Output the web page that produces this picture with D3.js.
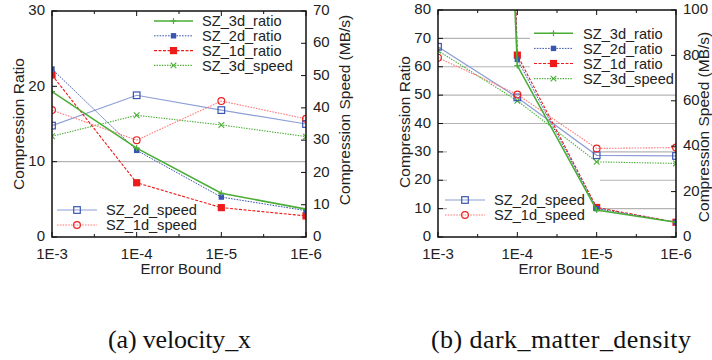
<!DOCTYPE html>
<html>
<head>
<meta charset="utf-8">
<script src="https://cdn.jsdelivr.net/npm/d3@7"></script>
<style>
  html, body { margin: 0; padding: 0; background: #fff; }
  svg { display: block; }
  text { font-family: "Liberation Sans", Arial, sans-serif; fill: #222; }
  .caption { font-family: "Liberation Serif", "Times New Roman", serif; fill: #111; }
</style>
</head>
<body>
<svg id="chart" width="712" height="360"></svg>
<script>
// Error bounds on the x axis (shared by both panels)
const errorBounds = ["1E-3", "1E-4", "1E-5", "1E-6"];

// (a) velocity_x : compression ratio (left axis) and speed in MB/s (right axis)
const velRatio3d = [19.3, 11.8, 5.8, 3.7];
const velRatio2d = [22.3, 11.5, 5.3, 3.5];
const velRatio1d = [21.5, 7.2, 3.9, 2.8];
const velSpeed3d = [31.2, 37.7, 34.7, 31.1];
const velSpeed2d = [34.5, 43.9, 39.3, 35.0];
const velSpeed1d = [39.3, 30.0, 42.1, 36.6];

// (b) dark_matter_density
const dmdRatio3d = [725, 60.4, 9.5, 5.2];
const dmdRatio2d = [890, 62.6, 10.0, 5.2];
const dmdRatio1d = [1000, 64.1, 10.4, 5.2];
const dmdSpeed3d = [82.1, 60.0, 33.1, 32.4];
const dmdSpeed2d = [83.8, 61.5, 36.0, 35.7];
const dmdSpeed1d = [79.0, 62.8, 39.0, 39.4];

// Axis tick values
const velRatioTicks = [0, 10, 20, 30];
const velSpeedTicks = [0, 10, 20, 30, 40, 50, 60, 70];
const dmdRatioTicks = [0, 10, 20, 30, 40, 50, 60, 70, 80];
const dmdSpeedTicks = [0, 20, 40, 60, 80, 100];

const captions = ["(a) velocity_x", "(b) dark_matter_density"];

// Line / marker style for every series
const styles = {
  SZ_3d_ratio: { color: "#4aae35", width: 1.6, dash: null,      marker: "plus" },
  SZ_2d_ratio: { color: "#3a55b0", width: 1.0, dash: "1.6,1.2", marker: "fsquareSmall" },
  SZ_1d_ratio: { color: "#ee1b1b", width: 1.1, dash: "3,1.5",   marker: "fsquare" },
  SZ_3d_speed: { color: "#4aae35", width: 1.1, dash: "1.4,1.2", marker: "cross" },
  SZ_2d_speed: { color: "#8d9fd6", width: 1.2, dash: null,      marker: "osquare", mcolor: "#3a55b0" },
  SZ_1d_speed: { color: "#ff7a7a", width: 1.1, dash: "1.6,1.2", marker: "ocircle", mcolor: "#ee2222" }
};

const svg = d3.select("#chart");

function drawMarker(g, kind, x, y, st) {
  const c = st.mcolor || st.color;
  if (kind === "plus") {
    g.append("path").attr("d", `M${x-3},${y}H${x+3}M${x},${y-3}V${y+3}`)
      .attr("stroke", c).attr("stroke-width", 1.2).attr("fill", "none");
  } else if (kind === "cross") {
    g.append("path").attr("d", `M${x-2.8},${y-2.8}L${x+2.8},${y+2.8}M${x-2.8},${y+2.8}L${x+2.8},${y-2.8}`)
      .attr("stroke", c).attr("stroke-width", 1.1).attr("fill", "none");
  } else if (kind === "fsquareSmall") {
    g.append("rect").attr("x", x-2.7).attr("y", y-2.7).attr("width", 5.4).attr("height", 5.4).attr("fill", c);
  } else if (kind === "fsquare") {
    g.append("rect").attr("x", x-3.6).attr("y", y-3.6).attr("width", 7.2).attr("height", 7.2).attr("fill", c);
  } else if (kind === "osquare") {
    g.append("rect").attr("x", x-3.3).attr("y", y-3.3).attr("width", 6.6).attr("height", 6.6)
      .attr("fill", "none").attr("stroke", c).attr("stroke-width", 1.2);
  } else if (kind === "ocircle") {
    g.append("circle").attr("cx", x).attr("cy", y).attr("r", 3.4)
      .attr("fill", "none").attr("stroke", c).attr("stroke-width", 1.2);
  }
}

function drawPanel(p, idx) {
  const g = svg.append("g");
  const x = d3.scalePoint().domain(errorBounds).range([p.left, p.right]);
  const y = d3.scaleLinear().domain([0, p.yMax]).range([p.bottom, p.top]);
  const y2 = d3.scaleLinear().domain([0, p.y2Max]).range([p.bottom, p.top]);

  // horizontal grid
  g.append("g").selectAll("line").data(p.grid).join("line")
    .attr("x1", p.left).attr("x2", p.right)
    .attr("y1", d => y(d)).attr("y2", d => y(d))
    .attr("stroke", "#b4b4b4").attr("stroke-width", 1.2);

  // opaque key areas over the grid
  p.keyBoxes.forEach(b => {
    g.append("rect").attr("x", b[0]).attr("y", b[1]).attr("width", b[2] - b[0]).attr("height", b[3] - b[1])
      .attr("fill", "#fff");
  });

  // clip region for data
  const clipId = "clip" + idx;
  svg.append("clipPath").attr("id", clipId).append("rect")
    .attr("x", p.left).attr("y", p.top).attr("width", p.right - p.left).attr("height", p.bottom - p.top);

  const data = g.append("g").attr("clip-path", `url(#${clipId})`);
  p.series.forEach(s => {
    const st = styles[s.name];
    const sc = s.axis === "y2" ? y2 : y;
    const line = d3.line().x((d, i) => x(errorBounds[i])).y(d => sc(d));
    data.append("path").attr("d", line(s.values))
      .attr("fill", "none").attr("stroke", st.color).attr("stroke-width", st.width)
      .attr("stroke-dasharray", st.dash);
    s.values.forEach((v, i) => drawMarker(data, st.marker, x(errorBounds[i]), sc(v), st));
  });

  // frame
  g.append("rect").attr("x", p.left).attr("y", p.top)
    .attr("width", p.right - p.left).attr("height", p.bottom - p.top)
    .attr("fill", "none").attr("stroke", "#111").attr("stroke-width", 1.5);

  // ticks: left (y), right (y2), bottom + top (x with minor midpoints)
  const tk = g.append("g").attr("stroke", "#111").attr("stroke-width", 1);
  p.yTicks.forEach(t => tk.append("line").attr("x1", p.left).attr("x2", p.left + 5).attr("y1", y(t)).attr("y2", y(t)));
  p.y2Ticks.forEach(t => tk.append("line").attr("x1", p.right).attr("x2", p.right - 5).attr("y1", y2(t)).attr("y2", y2(t)));
  errorBounds.forEach((e, i) => {
    const xv = x(e);
    tk.append("line").attr("x1", xv).attr("x2", xv).attr("y1", p.bottom).attr("y2", p.bottom - 5);
    tk.append("line").attr("x1", xv).attr("x2", xv).attr("y1", p.top).attr("y2", p.top + 5);
    if (i < errorBounds.length - 1) {
      const xm = (xv + x(errorBounds[i + 1])) / 2;
      tk.append("line").attr("x1", xm).attr("x2", xm).attr("y1", p.bottom).attr("y2", p.bottom - 3);
      tk.append("line").attr("x1", xm).attr("x2", xm).attr("y1", p.top).attr("y2", p.top + 3);
    }
  });

  // tick labels
  const fs = "15px";
  g.append("g").selectAll("text").data(p.yTicks).join("text")
    .attr("x", p.left - 7).attr("y", d => y(d)).attr("dy", "0.28em")
    .attr("text-anchor", "end").style("font-size", fs).text(d => d);
  g.append("g").selectAll("text").data(p.y2Ticks).join("text")
    .attr("x", p.right + 7).attr("y", d => y2(d)).attr("dy", "0.28em")
    .attr("text-anchor", "start").style("font-size", fs).text(d => d);
  g.append("g").selectAll("text").data(errorBounds).join("text")
    .attr("x", d => x(d)).attr("y", p.bottom + 22)
    .attr("text-anchor", "middle").style("font-size", fs).text(d => d);

  // axis titles
  g.append("text").attr("x", (p.left + p.right) / 2 + 2).attr("y", p.bottom + 37)
    .attr("text-anchor", "middle").style("font-size", fs).text("Error Bound");
  g.append("text").attr("transform", `translate(${p.yTitleX},${p.yTitleY}) rotate(-90)`)
    .attr("text-anchor", "middle").style("font-size", "15.5px").text("Compression Ratio");
  g.append("text").attr("transform", `translate(${p.y2TitleX},${p.y2TitleY}) rotate(-90)`)
    .attr("text-anchor", "middle").style("font-size", "15.5px").text("Compression Speed (MB/s)");

  // keys
  p.keys.forEach(k => {
    k.names.forEach((n, i) => {
      const st = styles[n];
      const ry = k.y0 + i * k.dy;
      g.append("line").attr("x1", k.x0).attr("x2", k.x1).attr("y1", ry).attr("y2", ry)
        .attr("stroke", st.color).attr("stroke-width", st.width).attr("stroke-dasharray", st.dash);
      drawMarker(g, st.marker, (k.x0 + k.x1) / 2, ry, st);
      g.append("text").attr("x", k.tx).attr("y", ry).attr("dy", "0.36em")
        .style("font-size", "14.6px").text(n);
    });
  });

  // caption
  svg.append("text").attr("class", "caption").attr("x", p.capX).attr("y", 348)
    .style("font-size", "26px").attr("textLength", p.capW).attr("lengthAdjust", "spacing")
    .text(captions[idx]);
}

const topKeyNames = ["SZ_3d_ratio", "SZ_2d_ratio", "SZ_1d_ratio", "SZ_3d_speed"];
const bottomKeyNames = ["SZ_2d_speed", "SZ_1d_speed"];

const panels = [
  {
    left: 52, right: 306, top: 11, bottom: 237,
    yMax: 30, y2Max: 70, yTicks: velRatioTicks, y2Ticks: velSpeedTicks, grid: [10],
    keyBoxes: [],
    series: [
      { name: "SZ_3d_speed", axis: "y2", values: velSpeed3d },
      { name: "SZ_2d_speed", axis: "y2", values: velSpeed2d },
      { name: "SZ_1d_speed", axis: "y2", values: velSpeed1d },
      { name: "SZ_1d_ratio", axis: "y", values: velRatio1d },
      { name: "SZ_2d_ratio", axis: "y", values: velRatio2d },
      { name: "SZ_3d_ratio", axis: "y", values: velRatio3d }
    ],
    keys: [
      { names: topKeyNames, x0: 154, x1: 193, tx: 202, y0: 21, dy: 14.8 },
      { names: bottomKeyNames, x0: 57, x1: 97, tx: 106, y0: 210, dy: 15 }
    ],
    yTitleX: 24, yTitleY: 124, y2TitleX: 350, y2TitleY: 110,
    capX: 108, capW: 143
  },
  {
    left: 438, right: 676, top: 10, bottom: 237,
    yMax: 80, y2Max: 100, yTicks: dmdRatioTicks, y2Ticks: dmdSpeedTicks,
    grid: [10, 20, 30, 40, 50, 60, 70],
    keyBoxes: [[530, 24, 676, 88], [447, 140, 600, 228]],
    series: [
      { name: "SZ_3d_speed", axis: "y2", values: dmdSpeed3d },
      { name: "SZ_2d_speed", axis: "y2", values: dmdSpeed2d },
      { name: "SZ_1d_speed", axis: "y2", values: dmdSpeed1d },
      { name: "SZ_1d_ratio", axis: "y", values: dmdRatio1d },
      { name: "SZ_2d_ratio", axis: "y", values: dmdRatio2d },
      { name: "SZ_3d_ratio", axis: "y", values: dmdRatio3d }
    ],
    keys: [
      { names: topKeyNames, x0: 534, x1: 573, tx: 583, y0: 33.3, dy: 15.1 },
      { names: bottomKeyNames, x0: 445, x1: 485, tx: 494, y0: 200, dy: 15 }
    ],
    yTitleX: 410, yTitleY: 122, y2TitleX: 709, y2TitleY: 127,
    capX: 431, capW: 260
  }
];

panels.forEach(drawPanel);
</script>
</body>
</html>
